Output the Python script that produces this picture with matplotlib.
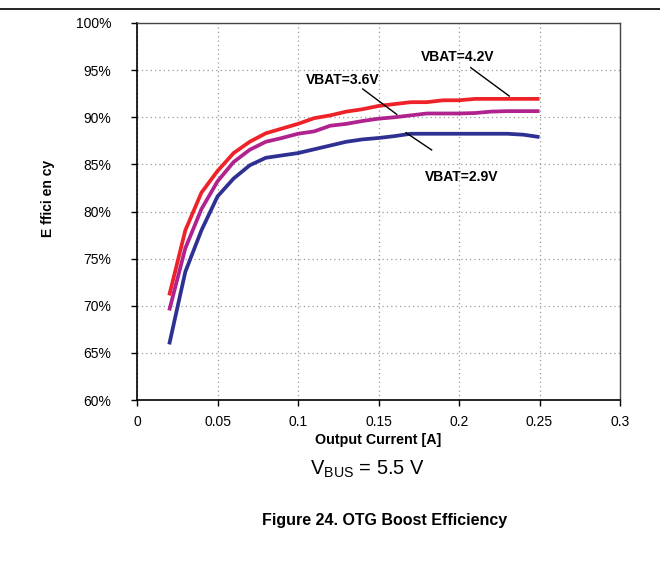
import matplotlib
matplotlib.use("Agg")
import matplotlib.pyplot as plt
import numpy as np

plt.rcParams['font.family'] = ['Liberation Sans', 'DejaVu Sans']

# output current steps (A)
current = [0.02, 0.03, 0.04, 0.05, 0.06, 0.07, 0.08, 0.09, 0.10, 0.11, 0.12, 0.13,
           0.14, 0.15, 0.16, 0.17, 0.18, 0.19, 0.20, 0.21, 0.22, 0.23, 0.24, 0.25]

# efficiency (%) per battery voltage
eff_42 = [71.1, 78.0, 82.0, 84.3, 86.2, 87.4, 88.3, 88.8, 89.3, 89.9, 90.2, 90.6,
          90.85, 91.2, 91.4, 91.6, 91.6, 91.8, 91.8, 91.95, 91.95, 91.95, 91.95, 91.95]
eff_36 = [69.5, 76.1, 80.25, 83.2, 85.25, 86.55, 87.4, 87.8, 88.25, 88.5, 89.1, 89.3,
          89.6, 89.85, 90.0, 90.2, 90.4, 90.4, 90.4, 90.45, 90.6, 90.65, 90.65, 90.65]
eff_29 = [65.9, 73.6, 78.0, 81.6, 83.5, 84.9, 85.7, 85.95, 86.2, 86.6, 87.0, 87.4,
          87.65, 87.8, 88.0, 88.25, 88.25, 88.25, 88.25, 88.25, 88.25, 88.25, 88.15, 87.9]

series = [("VBAT=4.2V", eff_42, "#ee2229"),
          ("VBAT=3.6V", eff_36, "#b0238f"),
          ("VBAT=2.9V", eff_29, "#2e3192")]

# label text position, leader line start/end
labels = {"VBAT=4.2V": ((0.1994, 96.4), (0.2073, 95.26), (0.2312, 92.25)),
          "VBAT=3.6V": ((0.1278, 93.95), (0.1402, 93.0), (0.1613, 90.31)),
          "VBAT=2.9V": ((0.2019, 83.66), (0.1671, 88.36), (0.1830, 86.53))}

fig = plt.figure(figsize=(6.6, 5.75), dpi=100)
ax = fig.add_axes([0.2076, 0.3043, 0.7318, 0.6557])

for name, vals, col in series:
    ax.plot(current, vals, color=col, lw=2.7, solid_capstyle='butt', zorder=3)
    (tx, ty), (x0, y0), (x1, y1) = labels[name]
    ax.text(tx, ty, name, ha='center', va='center', fontsize=10, fontweight='bold', zorder=4)
    ax.plot([x0, x1], [y0, y1], color='black', lw=1, zorder=4)

ax.set_xlim(0, 0.3)
ax.set_ylim(60, 100)
ax.set_xticks(np.arange(0, 0.31, 0.05))
ax.set_xticklabels(["0", "0.05", "0.1", "0.15", "0.2", "0.25", "0.3"])
ax.set_yticks(range(60, 101, 5))
ax.set_yticklabels([f"{v}%" for v in range(60, 101, 5)])
ax.tick_params(labelsize=10, direction='out', length=4.5, width=1)
ax.tick_params(axis='y', pad=14)
ax.tick_params(axis='x', pad=6)
ax.grid(True, color='#999999', linestyle=(0, (1, 2.5)), lw=0.9)

for s in ['left', 'bottom']:
    ax.spines[s].set_linewidth(1.2)
for s in ['top', 'right']:
    ax.spines[s].set_color('#444444')
    ax.spines[s].set_linewidth(1.0)

ax.set_xlabel("Output Current [A]", fontsize=10.3, fontweight='bold', labelpad=3)
ax.set_ylabel("E ffici en cy", fontsize=10, fontweight='bold')
ax.yaxis.set_label_coords(-0.17, 0.535)

fig.text(367 / 660, 1 - 469 / 575, r"V$_{\mathregular{BUS}}$ = 5.5 V", ha='center', va='center', fontsize=14.5)
fig.text(385 / 660, 1 - 520 / 575, "Figure 24. OTG Boost Efficiency", ha='center', va='center',
         fontsize=11.5, fontweight='bold')

# separator line at the top of the page
fig.add_artist(plt.Line2D([0, 1], [1 - 9 / 575, 1 - 9 / 575], color='black', lw=1.2))

fig.savefig("out.png", dpi=100)
